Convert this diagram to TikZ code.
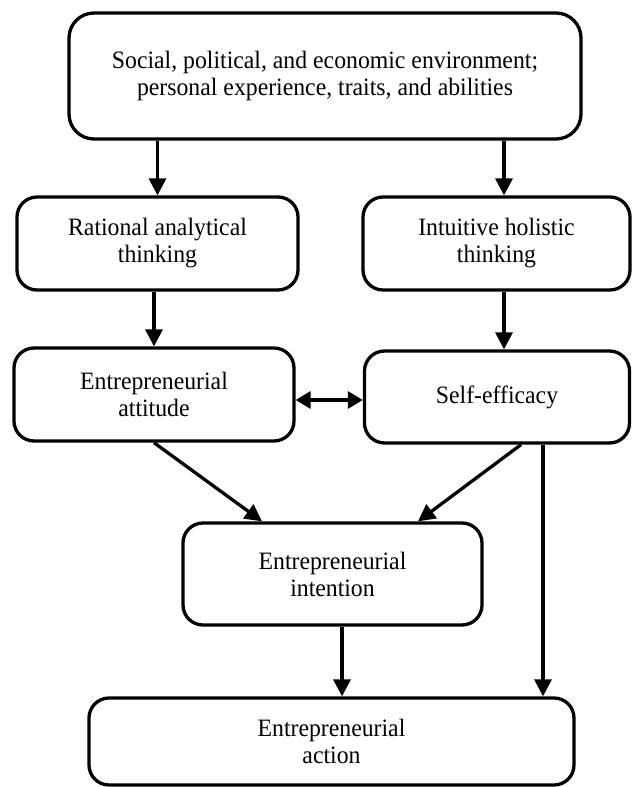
\documentclass[tikz,border=0pt]{standalone}
\usepackage{fontspec}
\setmainfont[FakeStretch=0.95]{Liberation Serif}
\usetikzlibrary{arrows.meta,calc}
\begin{document}
\begin{tikzpicture}[x=1pt,y=-1pt,
  box/.style={draw, line width=3.3pt, rounded corners=20pt, align=center,
    inner sep=0pt, font=\fontsize{25}{27}\selectfont},
  arr/.style={line width=3.3pt, -{Triangle[length=17pt,width=17pt]}},
  dbl/.style={line width=3.3pt, {Triangle[length=15pt,width=17pt]}-{Triangle[length=15pt,width=17pt]}}
]
\useasboundingbox (0,0) rectangle (633,787);

% boxes
\node[box, rounded corners=25pt, minimum width=512pt, minimum height=126pt] (env) at (325,76)
  {Social, political, and economic environment;\\personal experience, traits, and abilities};
\node[box, minimum width=281pt, minimum height=93pt] (rat) at (157.5,243.5)
  {Rational analytical\\thinking};
\node[box, minimum width=267pt, minimum height=93pt] (intu) at (496.5,243.5)
  {Intuitive holistic\\thinking};
\node[box, minimum width=280pt, minimum height=93pt] (att) at (154,394.5)
  {Entrepreneurial\\attitude};
\node[box, minimum width=265pt, minimum height=92pt] (self) at (497,397)
  {Self-efficacy};
\node[box, minimum width=299pt, minimum height=102pt] (intn) at (332.5,574)
  {Entrepreneurial\\intention};
\node[box, minimum width=485pt, minimum height=87pt] (act) at (331.5,741.5)
  {Entrepreneurial\\action};

% connector end points on the box borders
\coordinate (intuN) at ($(intu.north)+(7.5,0)$);
\coordinate (selfN) at ($(self.north)+(7,0)$);
\coordinate (attE)  at ($(att.east)+(0,5.5)$);
\coordinate (selfS) at ($(self.south)+(24,0)$);
\coordinate (selfR) at ($(self.south)+(46,0)$);
\coordinate (intnL) at ($(intn.north)+(-70.5,0)$);
\coordinate (intnR) at ($(intn.north)+(85.5,0)$);
\coordinate (intnS) at ($(intn.south)+(9.5,0)$);

% connectors
\draw[arr] (rat.north |- env.south) -- (rat.north);
\draw[arr] (intuN |- env.south) -- (intuN);
\draw[arr] (att.north |- rat.south) -- (att.north);
\draw[arr] (selfN |- intu.south) -- (selfN);
\draw[dbl] (attE) -- (self.west |- attE);
\draw[arr] (att.south) -- (intnL);
\draw[arr] (selfS) -- (intnR);
\draw[arr] (intnS) -- (intnS |- act.north);
\draw[arr] (selfR) -- (selfR |- act.north);
\end{tikzpicture}
\end{document}
